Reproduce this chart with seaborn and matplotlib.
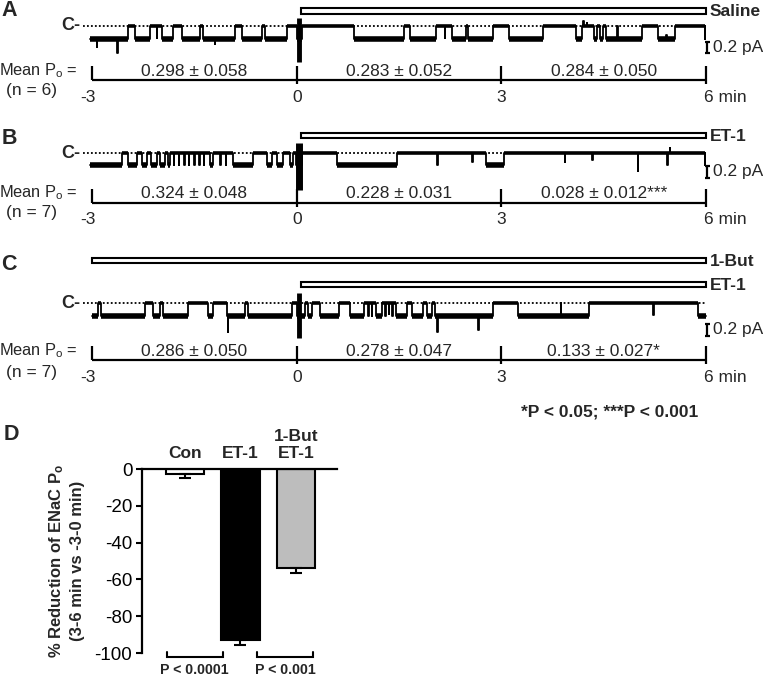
import numpy as np
import pandas as pd
import matplotlib
matplotlib.use('Agg')
import matplotlib.pyplot as plt
from matplotlib.patches import Rectangle
import seaborn as sns

sns.set_style('white')
plt.rcParams['font.family'] = ['Liberation Sans', 'DejaVu Sans']
plt.rcParams['mathtext.fontset'] = 'custom'
plt.rcParams['mathtext.rm'] = 'Liberation Sans'
plt.rcParams['mathtext.bf'] = 'Liberation Sans:bold'
plt.rcParams['mathtext.it'] = 'Liberation Sans:italic'
plt.rcParams['axes.unicode_minus'] = False

# ------------------------------------------------------------------ data
time_ticks = [-3, 0, 3, 6]
time_tick_labels = ['-3', '0', '3', '6 min']
segment_centers = [-1.5, 1.5, 4.5]

po_A = ['0.298 ± 0.058', '0.283 ± 0.052', '0.284 ± 0.050']
po_B = ['0.324 ± 0.048', '0.228 ± 0.031', '0.028 ± 0.012***']
po_C = ['0.286 ± 0.050', '0.278 ± 0.047', '0.133 ± 0.027*']
n_A, n_B, n_C = 6, 7, 7

treat_A = [('Saline', 0.06, 6.0)]
treat_B = [('ET-1', 0.06, 6.0)]
treat_C = [('1-But', -3.0, 6.0), ('ET-1', 0.06, 6.0)]

# single-channel traces: closed periods (min), brief spikes (min, pA), open level (pA)
span_A = (-3.03, 5.98)
closed_A = [(-2.47, -2.37), (-2.15, -1.97), (-1.81, -1.68), (-1.42, -1.37), (-0.90, -0.80),
            (-0.51, -0.46), (-0.14, 0.00), (0.08, 0.84), (1.57, 1.66), (2.04, 2.28),
            (2.48, 2.51), (2.88, 3.11), (3.61, 4.09), (4.18, 4.36), (4.40, 4.45),
            (4.49, 4.54), (5.06, 5.30), (5.54, 5.98)]
spikes_A = [(-2.93, -0.36), (-2.63, -0.46), (-2.05, -0.20), (-1.20, -0.30), (2.17, -0.20),
            (4.20, 0.08), (4.25, 0.05), (4.70, 0.0), (5.42, -0.15)]
open_A = -0.23
artifact_A = (0.03, 0.14, -0.62)

span_B = (-3.03, 5.99)
closed_B = [(-2.56, -2.47), (-2.34, -2.27), (-2.20, -2.13), (-2.05, -2.00), (-1.93, -1.89),
            (-1.86, -1.27), (-1.23, -0.93), (-0.64, -0.44), (-0.36, -0.29), (-0.20, -0.10),
            (-0.05, -0.01), (0.08, 0.59), (1.47, 2.77), (3.04, 5.99)]
spikes_B = [(-1.80, -0.21), (-1.73, -0.21), (-1.65, -0.21), (-1.58, -0.21), (-1.50, -0.21),
            (-1.43, -0.21), (-1.36, -0.21), (-1.12, -0.21), (-1.04, -0.21), (2.06, -0.20),
            (2.57, -0.15), (3.93, -0.15), (4.33, -0.12), (5.00, -0.30), (5.43, -0.20),
            (5.47, 0.08)]
open_B = -0.205
artifact_B = (0.04, 0.17, -0.63)

span_C = (-3.0, 6.0)
closed_C = [(-2.91, -2.87), (-2.23, -2.11), (-2.01, -1.96), (-1.59, -1.30), (-1.23, -1.02),
            (-0.76, -0.71), (-0.07, 0.0), (0.12, 0.17), (0.22, 0.34), (0.62, 0.78),
            (0.99, 1.16), (1.25, 1.46), (1.62, 1.69), (1.85, 1.91), (1.98, 2.03),
            (2.88, 3.24), (4.28, 5.88)]
spikes_C = [(-1.01, -0.50), (1.05, -0.22), (1.10, -0.22), (1.30, -0.22), (1.35, -0.18),
            (1.40, -0.22), (2.06, -0.50), (2.66, -0.46), (3.87, 0.0), (5.23, -0.20)]
open_C = -0.22
artifact_C = (0.03, 0.17, -0.60)

# panel D
groups = ['Con', 'ET-1', '1-But\nET-1']
reduction = [-2.7, -93.0, -53.6]
reduction_sem = [2.3, 2.6, 3.0]
bar_colors = ['white', 'black', '#bdbdbd']
comparisons = [('P < 0.0001', -0.32, 0.68), ('P < 0.001', 1.30, 2.31)]

# ------------------------------------------------------------------ layout
W, H = 763, 678
PX_PER_MIN = 68.22
X0_PX = 296.7
PX_PER_PA = 58.5
XLIM = (-X0_PX / PX_PER_MIN, (W - X0_PX) / PX_PER_MIN)


def tx(px):
    return (px - X0_PX) / PX_PER_MIN


fig = plt.figure(figsize=(W / 100, H / 100), dpi=100)

panels = [
    dict(letter='A', letter_y=11, c=26, treat=treat_A, treat_y=[(8, 6)], axis_y=80, val_y=71,
         n_y=91, tick_y=97, po=po_A, n=n_A, span=span_A, closed=closed_A, spikes=spikes_A,
         open=open_A, art=artifact_A, art_lw=3.5, scale=(-0.47, -0.27)),
    dict(letter='B', letter_y=139, c=153, treat=treat_B, treat_y=[(132.5, 5.5)], axis_y=203,
         val_y=193, n_y=212, tick_y=219, po=po_B, n=n_B, span=span_B, closed=closed_B,
         spikes=spikes_B, open=open_B, art=artifact_B, art_lw=5, scale=(-0.42, -0.22)),
    dict(letter='C', letter_y=265, c=303, treat=treat_C, treat_y=[(257.5, 5.5), (281.5, 5.5)],
         axis_y=360, val_y=351, n_y=372, tick_y=378, po=po_C, n=n_C, span=span_C,
         closed=closed_C, spikes=spikes_C, open=open_C, art=artifact_C, art_lw=3.5,
         scale=(-0.56, -0.36)),
]


def draw_trace(ax, span, closed, spikes, open_lvl, art, art_lw):
    t0, t1 = span

    def level_at(t):
        for a, b in closed:
            if a <= t < b:
                return 0.0
        return open_lvl

    ev = [(t0, level_at(t0))]
    for a, b in closed:
        ev.append((a, 0.0))
        ev.append((b, open_lvl))
    for t, lv in spikes:
        ev.append((t, lv))
        ev.append((t + 0.008, level_at(t)))
    ev.append((t1, level_at(t1 - 1e-6)))
    ev.sort(key=lambda e: e[0])
    tt = np.array([e[0] for e in ev])
    yy = np.array([e[1] for e in ev])
    sns.lineplot(x=tt, y=yy, estimator=None, sort=False, drawstyle='steps-post',
                 color='black', lw=1.3, ax=ax)
    # noise band of the two current levels
    segs, cur = [], t0
    for a, b in closed:
        if a > cur:
            segs.append((cur, a))
        cur = max(cur, b)
    if cur < t1:
        segs.append((cur, t1))
    ax.hlines([open_lvl] * len(segs), [s for s, e in segs], [e for s, e in segs],
              color='black', lw=4.0)
    ax.hlines([0.0] * len(closed), [a for a, b in closed], [b for a, b in closed],
              color='black', lw=2.6)
    ax.vlines(art[0], art[2], art[1], color='black', lw=art_lw)


for p in panels:
    c = p['c']
    axT = fig.add_axes([0, 1 - (c + 45) / H, 1, 65 / H])
    axT.set_xlim(*XLIM)
    axT.set_ylim(-45 / PX_PER_PA, 20 / PX_PER_PA)
    axT.axis('off')
    axT.hlines(0, tx(83), tx(705), colors='black', linestyles=(0, (1, 1.2)), lw=1.3, zorder=0)
    draw_trace(axT, p['span'], p['closed'], p['spikes'], p['open'], p['art'], p['art_lw'])
    lo, hi = p['scale']
    axT.vlines(tx(707), lo, hi, color='black', lw=1.6)
    axT.hlines([lo, hi], tx(704.5), tx(709.5), color='black', lw=1.6)
    axT.text(tx(713), (lo + hi) / 2, '0.2 pA', ha='left', va='center', fontsize=12.5)

ov = fig.add_axes([0, 0, 1, 1])
ov.set_xlim(*XLIM)
ov.set_ylim(H, 0)
ov.axis('off')

for p in panels:
    ov.text(tx(9), p['letter_y'], p['letter'], fontsize=15.5, fontweight='bold',
            ha='center', va='center')
    for (lab, s, e), (yt, h) in zip(p['treat'], p['treat_y']):
        ov.add_patch(Rectangle((s, yt), e - s, h, facecolor='white', edgecolor='black', lw=1.5))
        ov.text(tx(710), yt + h / 2 + 1, lab, fontsize=12.5, fontweight='bold',
                ha='left', va='center')
    ov.text(tx(80), p['c'], 'C-', fontsize=13, fontweight='bold', ha='right', va='center')
    ay = p['axis_y']
    ov.hlines(ay, time_ticks[0], time_ticks[-1], color='black', lw=1.6)
    for i, t in enumerate(time_ticks):
        ov.vlines(t, ay - 14, ay + (0 if i == 0 else 4), color='black', lw=1.6)
        ha = 'left' if i == len(time_ticks) - 1 else 'center'
        xoff = -0.03 if i == len(time_ticks) - 1 else (-0.06 if i == 0 else 0)
        ov.text(t + xoff, p['tick_y'], time_tick_labels[i], fontsize=12.5, ha=ha, va='center')
    for xc, s in zip(segment_centers, p['po']):
        ov.text(xc, p['val_y'], s, fontsize=12.5, ha='center', va='center')
    ov.text(tx(78), p['val_y'], r'Mean P$_\mathrm{o}$ =', fontsize=11.8, ha='right',
            va='center')
    ov.text(tx(6), p['n_y'], f"(n = {p['n']})", fontsize=12.5, ha='left', va='center')

ov.text(tx(610), 412, '*P < 0.05; ***P < 0.001', fontsize=12.5, fontweight='bold',
        ha='center', va='center')
ov.text(tx(11), 435, 'D', fontsize=15.5, fontweight='bold', ha='center', va='center')

# ------------------------------------------------------------------ panel D
axD = fig.add_axes([142 / W, 1 - 653 / H, 195 / W, 184 / H])
df = pd.DataFrame({'group': groups, 'reduction': reduction})
sns.barplot(data=df, x='group', y='reduction', hue='group', palette=bar_colors,
            legend=False, edgecolor='black', linewidth=1.5, width=0.69, errorbar=None, ax=axD)
axD.errorbar(range(len(groups)), reduction, yerr=[reduction_sem, [0] * len(groups)],
             fmt='none', ecolor='black', elinewidth=1.5, capsize=4, capthick=1.5)
axD.set_xlim(-0.77, 2.74)
axD.set_ylim(-100, 0)
axD.set_yticks([0, -20, -40, -60, -80, -100])
axD.set_xticks([])
axD.set_xlabel('')
axD.set_ylabel('')
axD.tick_params(axis='y', left=True, direction='out', length=4, width=1.5,
                labelsize=13.5, pad=3, colors='black')
for side in ['right', 'bottom']:
    axD.spines[side].set_visible(False)
for side in ['left', 'top']:
    axD.spines[side].set_visible(True)
    axD.spines[side].set_color('black')
    axD.spines[side].set_linewidth(1.6)
axD.patch.set_alpha(0)

PX_PER_PCT = 184 / 100
for i, g in enumerate(groups):
    axD.text(i, (469 - 461) / PX_PER_PCT, g, fontsize=12.5, fontweight='bold',
             ha='center', va='bottom', multialignment='center', linespacing=1.15)

for lab, x0, x1 in comparisons:
    axD.plot([x0, x0, x1, x1], [-99.4, -102.2, -102.2, -99.4], color='black', lw=1.5,
             clip_on=False, solid_joinstyle='miter')
    axD.text((x0 + x1) / 2, -109.3, lab, fontsize=10.2, fontweight='bold',
             ha='center', va='center', clip_on=False)

axD.text(-0.39, 0.5, '% Reduction of ENaC P$_\\mathbf{o}$\n(3-6 min vs -3-0 min)',
         transform=axD.transAxes, rotation=90, fontsize=12, fontweight='bold',
         ha='center', va='center', multialignment='center', linespacing=1.3)

fig.savefig('out.png', dpi=100)
